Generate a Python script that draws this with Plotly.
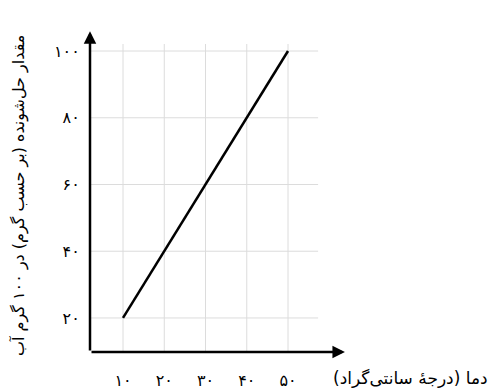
import plotly.graph_objects as go

# temperature (C) and solute amount (g per 100 g water)
temps = [10, 20, 30, 40, 50]
solute = [20, 40, 60, 80, 100]

x_ticks = [10, 20, 30, 40, 50]
x_labels = ["۱۰", "۲۰", "۳۰", "۴۰", "۵۰"]
y_ticks = [20, 40, 60, 80, 100]
y_labels = ["۲۰", "۴۰", "۶۰", "۸۰", "۱۰۰"]

x_title = "دما (درجهٔ سانتی‌گراد)"
y_title = "مقدار حل‌شونده (بر حسب گرم) در ۱۰۰ گرم آب"

x_min, x_max = 2, 65.03
y_min, y_max = 9.8, 106.3
font = "DejaVu Sans"

fig = go.Figure()
fig.add_trace(go.Scatter(x=temps, y=solute, mode="lines",
                         line=dict(color="black", width=2.5),
                         showlegend=False, hoverinfo="skip"))

# light grid, drawn only over the area the original grid covers
shapes = []
for v in x_ticks:
    shapes.append(dict(type="line", xref="x", yref="y", x0=v, x1=v,
                       y0=y_min, y1=102.1,
                       line=dict(color="#dcdcdc", width=1), layer="below"))
for v in y_ticks:
    shapes.append(dict(type="line", xref="x", yref="y", x0=x_min, x1=57.3,
                       y0=v, y1=v,
                       line=dict(color="#dcdcdc", width=1), layer="below"))

# axis arrows + titles (titles placed in paper coords, pixel-based)
annotations = [
    dict(x=63.8, y=y_min, ax=x_min, ay=y_min, xref="x", yref="y",
         axref="x", ayref="y", showarrow=True, arrowhead=2, arrowsize=1,
         arrowwidth=2.5, arrowcolor="black", text=""),
    dict(x=x_min, y=105.9, ax=x_min, ay=y_min, xref="x", yref="y",
         axref="x", ayref="y", showarrow=True, arrowhead=2, arrowsize=1,
         arrowwidth=2.5, arrowcolor="black", text=""),
    dict(text=x_title, showarrow=False, xref="paper", yref="paper",
         x=1.0 + (410 - 350) / 260, y=-(378 - 352) / 322,
         xanchor="center", yanchor="middle",
         font=dict(family=font, size=17, color="black")),
    dict(text=y_title, textangle=-90, showarrow=False,
         xref="paper", yref="paper",
         x=-(90 - 19) / 260, y=(352 - 196) / 322,
         xanchor="center", yanchor="middle",
         font=dict(family=font, size=16, color="black")),
]

# the page body adds an 8px offset, so the figure is 8px smaller
fig.update_layout(
    width=489, height=382,
    margin=dict(l=82, r=147, t=22, b=38, autoexpand=False),
    plot_bgcolor="white", paper_bgcolor="white",
    shapes=shapes, annotations=annotations,
    font=dict(family=font, size=16, color="black"),
)
fig.update_xaxes(range=[x_min, x_max], tickvals=x_ticks, ticktext=x_labels,
                 showgrid=False, zeroline=False, showline=False,
                 automargin=False,
                 ticks="outside", ticklen=14, tickcolor="rgba(0,0,0,0)")
fig.update_yaxes(range=[y_min, y_max], tickvals=y_ticks, ticktext=y_labels,
                 showgrid=False, zeroline=False, showline=False,
                 automargin=False,
                 ticks="outside", ticklen=6, tickcolor="rgba(0,0,0,0)")

fig.write_html("out.html")
